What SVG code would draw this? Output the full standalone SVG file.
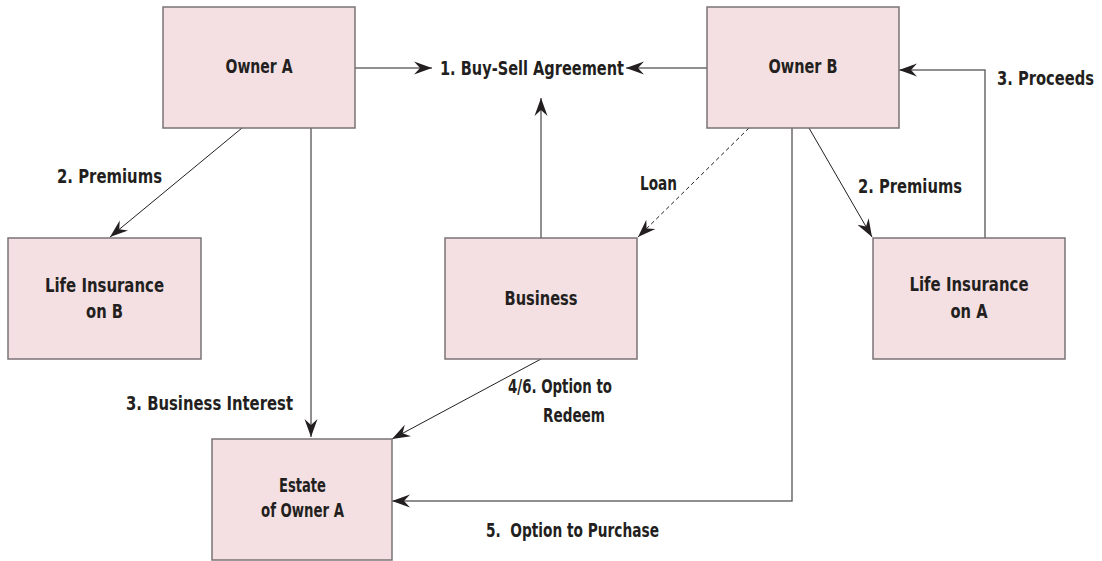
<svg xmlns="http://www.w3.org/2000/svg" width="1102" height="561" viewBox="0 0 1102 561">
<style>
.box{fill:#f4dfe2;stroke:#7a7375;stroke-width:1.5}
.t{font-family:"Liberation Sans Narrow","DejaVu Sans Condensed","Liberation Sans",sans-serif;font-weight:bold;font-size:20px;fill:#231f20;white-space:pre}
.m{text-anchor:middle}
.ln{fill:none;stroke:#6d6a6b;stroke-width:1.5}
.thin{fill:none;stroke:#231f20;stroke-width:1}
.dash{fill:none;stroke:#231f20;stroke-width:1;stroke-dasharray:4 3}
</style>
<defs>
<marker id="ah" markerUnits="userSpaceOnUse" markerWidth="20" markerHeight="14" viewBox="-18 -7 20 14" refX="0" refY="0" orient="auto">
<path d="M0,0 L-18,-6.5 L-12,0 L-18,6.5 Z" fill="#231f20"/>
</marker>
</defs>
<rect width="1102" height="561" fill="#ffffff"/>
<g id="connectors">
<line class="ln" x1="355" y1="68" x2="432" y2="68" marker-end="url(#ah)"/>
<line class="ln" x1="707" y1="68" x2="626" y2="68" marker-end="url(#ah)"/>
<line class="thin" x1="541" y1="238" x2="541" y2="98" marker-end="url(#ah)"/>
<line class="thin" x1="242" y1="128" x2="110" y2="237" marker-end="url(#ah)"/>
<line class="thin" x1="311" y1="128" x2="311" y2="437" marker-end="url(#ah)"/>
<line class="thin" x1="541" y1="359" x2="392" y2="439" marker-end="url(#ah)"/>
<polyline class="ln" points="792,128 792,501 392,501" marker-end="url(#ah)"/>
<line class="dash" x1="749" y1="128" x2="638" y2="237" marker-end="url(#ah)"/>
<line class="thin" x1="809" y1="128" x2="872" y2="237" marker-end="url(#ah)"/>
<polyline class="ln" points="985,238 985,70 899,70" marker-end="url(#ah)"/>
</g>
<g id="labels">
<text class="t" x="440" y="75" textLength="184" lengthAdjust="spacingAndGlyphs">1. Buy-Sell Agreement</text>
<text class="t" x="57" y="183" textLength="105" lengthAdjust="spacingAndGlyphs">2. Premiums</text>
<text class="t" x="858" y="193" textLength="104" lengthAdjust="spacingAndGlyphs">2. Premiums</text>
<text class="t" x="997" y="85" textLength="97" lengthAdjust="spacingAndGlyphs">3. Proceeds</text>
<text class="t" x="640" y="190" textLength="37" lengthAdjust="spacingAndGlyphs">Loan</text>
<text class="t" x="126" y="410" textLength="167" lengthAdjust="spacingAndGlyphs">3. Business Interest</text>
<text class="t" x="508" y="393" textLength="104" lengthAdjust="spacingAndGlyphs">4/6. Option to</text>
<text class="t" x="543" y="422" textLength="62" lengthAdjust="spacingAndGlyphs">Redeem</text>
<text class="t" x="486" y="537" textLength="173" lengthAdjust="spacingAndGlyphs">5.  Option to Purchase</text>
</g>
<g id="owner-a">
<rect class="box" x="163" y="7" width="192" height="121"/>
<text class="t m" x="259" y="73" textLength="67" lengthAdjust="spacingAndGlyphs">Owner A</text>
</g>
<g id="owner-b">
<rect class="box" x="707" y="7" width="192" height="121"/>
<text class="t m" x="803" y="73" textLength="69" lengthAdjust="spacingAndGlyphs">Owner B</text>
</g>
<g id="life-insurance-b">
<rect class="box" x="8" y="238" width="193" height="121"/>
<text class="t m" x="104.5" y="292" textLength="119" lengthAdjust="spacingAndGlyphs">Life Insurance</text>
<text class="t m" x="104.5" y="318" textLength="37" lengthAdjust="spacingAndGlyphs">on B</text>
</g>
<g id="business">
<rect class="box" x="445" y="238" width="192" height="121"/>
<text class="t m" x="541" y="305" textLength="73" lengthAdjust="spacingAndGlyphs">Business</text>
</g>
<g id="life-insurance-a">
<rect class="box" x="873" y="238" width="192" height="121"/>
<text class="t m" x="969" y="291" textLength="119" lengthAdjust="spacingAndGlyphs">Life Insurance</text>
<text class="t m" x="969" y="318" textLength="37" lengthAdjust="spacingAndGlyphs">on A</text>
</g>
<g id="estate-owner-a">
<rect class="box" x="212" y="439" width="180" height="121"/>
<text class="t m" x="302.5" y="492" textLength="47" lengthAdjust="spacingAndGlyphs">Estate</text>
<text class="t m" x="302.5" y="517" textLength="83" lengthAdjust="spacingAndGlyphs">of Owner A</text>
</g>
</svg>
